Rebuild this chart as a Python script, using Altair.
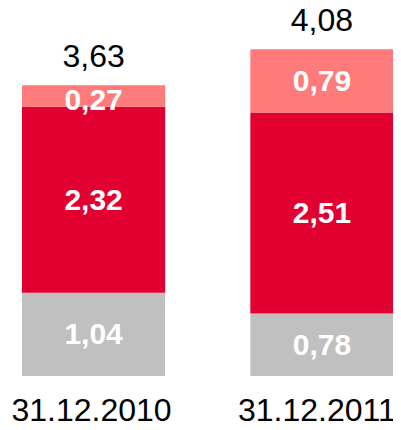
import altair as alt
import pandas as pd

dates = ["31.12.2010", "31.12.2011"]
grey_vals = [1.04, 0.78]
red_vals = [2.32, 2.51]
pink_vals = [0.27, 0.79]
totals = [3.63, 4.08]

series = ["grey", "red", "pink"]
colors = ["#C0C0C0", "#E1002F", "#FF7B7B"]

rows = []
for i, d in enumerate(dates):
    for k, (s, vals) in enumerate(zip(series, [grey_vals, red_vals, pink_vals])):
        rows.append({"date": d, "series": s, "order": k, "value": vals[i],
                     "label": f"{vals[i]:.2f}".replace(".", ",")})
df = pd.DataFrame(rows)
tot = pd.DataFrame({"date": dates, "total": totals, "zero": [0, 0], "idx": [0, 1],
                    "label": [f"{t:.2f}".replace(".", ",") for t in totals]})

FONT = "Liberation Sans"
xscale = alt.Scale(domain=dates, range=[14, 385.5], paddingInner=0.373, paddingOuter=0)
yscale = alt.Scale(domain=[0, 4.594])
X = alt.X("date:N", scale=xscale, sort=dates, axis=None)

base = alt.Chart(df)
bars = base.mark_bar().encode(
    x=X,
    y=alt.Y("value:Q", stack="zero", scale=yscale, axis=None),
    color=alt.Color("series:N", scale=alt.Scale(domain=series, range=colors), legend=None),
    order=alt.Order("order:Q"),
)

stacked = base.transform_stack(
    stack="value", as_=["v0", "v1"], groupby=["date"], sort=[alt.SortField("order")]
).transform_calculate(mid="(datum.v0 + datum.v1) / 2")

inner_big = stacked.transform_filter("datum.value >= 0.5").mark_text(
    font=FONT, fontSize=30, fontWeight="bold", color="#FFFFFF", baseline="middle", dy=1
).encode(x=X, y=alt.Y("mid:Q", scale=yscale, axis=None), text="label:N")

inner_small = stacked.transform_filter("datum.value < 0.5").mark_text(
    font=FONT, fontSize=30, fontWeight="bold", color="#FFFFFF", baseline="middle", dy=5
).encode(x=X, y=alt.Y("mid:Q", scale=yscale, axis=None), text="label:N")

top = alt.Chart(tot).mark_text(
    font=FONT, fontSize=32, color="#000000", baseline="alphabetic", dy=-18
).encode(x=X, y=alt.Y("total:Q", scale=yscale, axis=None), text="label:N")

date_left = alt.Chart(tot).transform_filter("datum.idx == 0").mark_text(
    font=FONT, fontSize=32, color="#000000", baseline="alphabetic", dy=45, dx=-2
).encode(x=X, y=alt.Y("zero:Q", scale=yscale, axis=None), text="date:N")

date_right = alt.Chart(tot).transform_filter("datum.idx == 1").mark_text(
    font=FONT, fontSize=32, color="#000000", baseline="alphabetic", dy=45, dx=-5
).encode(x=X, y=alt.Y("zero:Q", scale=yscale, axis=None), text="date:N")

chart = alt.layer(bars, inner_big, inner_small, top, date_left, date_right).properties(
    width=385, height=368,
    autosize=alt.AutoSizeParams(type="none"),
    padding={"left": 0, "top": 0, "right": 0, "bottom": 46},
).configure_view(stroke=None)

chart.save("out.html", embed_options={"renderer": "svg", "actions": False})
